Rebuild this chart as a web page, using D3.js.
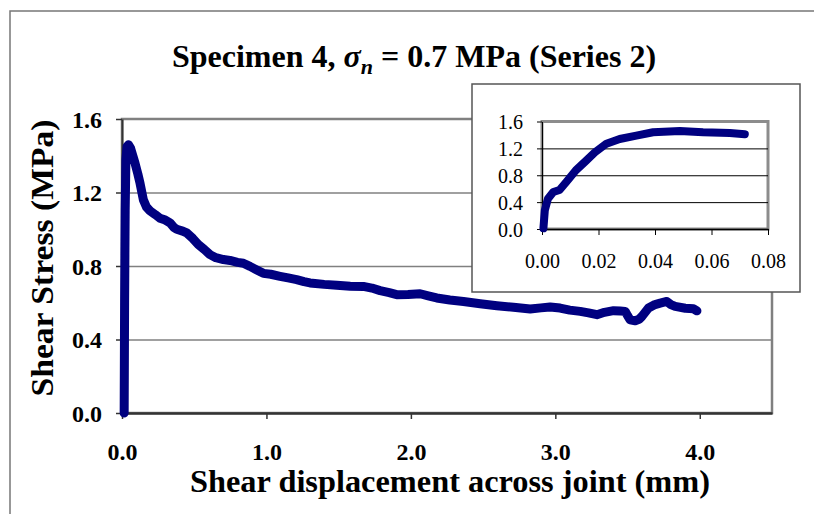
<!DOCTYPE html>
<html>
<head>
<meta charset="utf-8">
<script src="https://cdn.jsdelivr.net/npm/d3@7"></script>
<style>
  body { margin: 0; background: #fff; }
  svg { display: block; }
</style>
</head>
<body>
<svg class="shear" width="814" height="514"></svg>
<script>
// main curve: shear displacement (mm) vs shear stress (MPa)
const mainX = [0.015, 0.018, 0.022, 0.027, 0.035, 0.045, 0.06, 0.075, 0.09, 0.11, 0.125, 0.148, 0.17, 0.194, 0.23, 0.263, 0.30, 0.332, 0.36, 0.379, 0.42, 0.448, 0.49, 0.528, 0.57, 0.609, 0.65, 0.702, 0.748, 0.80, 0.84, 0.886, 0.93, 0.979, 1.03, 1.094, 1.15, 1.209, 1.26, 1.302, 1.40, 1.487, 1.58, 1.671, 1.73, 1.787, 1.85, 1.902, 1.98, 2.064, 2.12, 2.179, 2.27, 2.364, 2.48, 2.595, 2.71, 2.826, 2.90, 2.964, 3.033, 3.10, 3.172, 3.23, 3.288, 3.34, 3.403, 3.45, 3.484, 3.50, 3.518, 3.553, 3.58, 3.599, 3.645, 3.69, 3.726, 3.772, 3.80, 3.83, 3.90, 3.957, 3.98]
const mainY = [0.00, 0.60, 1.10, 1.38, 1.45, 1.46, 1.44, 1.40, 1.36, 1.30, 1.25, 1.16, 1.12, 1.10, 1.08, 1.06, 1.05, 1.035, 1.01, 1.00, 0.99, 0.98, 0.95, 0.917, 0.89, 0.862, 0.845, 0.835, 0.83, 0.82, 0.815, 0.798, 0.78, 0.76, 0.755, 0.744, 0.735, 0.726, 0.715, 0.708, 0.70, 0.695, 0.69, 0.689, 0.68, 0.666, 0.655, 0.644, 0.645, 0.649, 0.638, 0.626, 0.615, 0.607, 0.595, 0.584, 0.575, 0.566, 0.572, 0.577, 0.571, 0.56, 0.553, 0.545, 0.535, 0.548, 0.557, 0.555, 0.553, 0.53, 0.507, 0.502, 0.51, 0.525, 0.571, 0.59, 0.598, 0.607, 0.59, 0.58, 0.57, 0.567, 0.556]

// inset: first 0.07 mm
const insetX = [0.0005, 0.001, 0.0021, 0.004, 0.0062, 0.0086, 0.012, 0.0157, 0.0187, 0.0228, 0.0275, 0.0334, 0.0393, 0.0488, 0.057, 0.0665, 0.0718]
const insetY = [0.01, 0.28, 0.45, 0.55, 0.58, 0.70, 0.875, 1.02, 1.14, 1.27, 1.34, 1.39, 1.44, 1.46, 1.44, 1.43, 1.41]

const xTicks = [0, 1, 2, 3, 4]
const yTicks = [0, 0.4, 0.8, 1.2, 1.6]
const insetXTicks = [0, 0.02, 0.04, 0.06, 0.08]
const insetYTicks = [0, 0.4, 0.8, 1.2, 1.6]

const serif = '"Liberation Serif", "Times New Roman", serif'
const navy = '#000080'

const svg = d3.select('svg.shear')

// chart area border (runs off the right and bottom)
svg.append('rect')
  .attr('x', 10).attr('y', 11)
  .attr('width', 900).attr('height', 600)
  .attr('fill', '#fff')
  .attr('stroke', '#777').attr('stroke-width', 1.5)

// title
const title = svg.append('text')
  .attr('x', 414).attr('y', 67)
  .attr('text-anchor', 'middle')
  .style('font-family', serif).style('font-weight', 'bold').style('font-size', '32px')
title.append('tspan').text('Specimen 4, ')
title.append('tspan').style('font-style', 'italic').text('σ')
title.append('tspan').style('font-style', 'italic').style('font-size', '22px').attr('dy', 7).text('n')
title.append('tspan').attr('dy', -7).text(' = 0.7 MPa (Series 2)')

// ---- main plot ----
const xScale = d3.scaleLinear().domain([0, 4.5]).range([122, 772])
const yScale = d3.scaleLinear().domain([0, 1.6]).range([413, 119])

const plot = svg.append('g')

// plot area frame
plot.append('rect')
  .attr('x', xScale(0)).attr('y', yScale(1.6))
  .attr('width', xScale(4.5) - xScale(0)).attr('height', yScale(0) - yScale(1.6))
  .attr('fill', '#fff')
  .attr('stroke', '#808080').attr('stroke-width', 2.5)

// grid lines
plot.append('g')
  .attr('transform', `translate(${xScale(0)}, 0)`)
  .call(d3.axisLeft(yScale).tickValues(yTicks.slice(1, 4)).tickSize(-(xScale(4.5) - xScale(0))).tickFormat(''))
  .call(g => g.select('.domain').remove())
  .call(g => g.selectAll('line').attr('stroke', '#808080').attr('stroke-width', 1.5))

// y axis
const yAxis = plot.append('g')
  .attr('transform', `translate(${xScale(0)}, 0)`)
  .call(d3.axisLeft(yScale).tickValues(yTicks).tickSize(6).tickSizeOuter(0).tickPadding(14).tickFormat(d3.format('.1f')))
yAxis.select('.domain').attr('stroke', '#333').attr('stroke-width', 2)
yAxis.selectAll('line').attr('stroke', '#333').attr('stroke-width', 1.5)
yAxis.selectAll('text')
  .attr('dy', '0.35em')
  .style('font-family', serif).style('font-weight', 'bold').style('font-size', '24px').attr('fill', '#000')

// x axis
const xAxis = plot.append('g')
  .attr('transform', `translate(0, ${yScale(0)})`)
  .call(d3.axisBottom(xScale).tickValues(xTicks).tickSize(6).tickSizeOuter(0).tickFormat(d3.format('.1f')))
xAxis.select('.domain').attr('stroke', '#333').attr('stroke-width', 2.5)
xAxis.selectAll('line').attr('stroke', '#333').attr('stroke-width', 1.5)
xAxis.selectAll('text')
  .attr('y', 47).attr('dy', null)
  .style('font-family', serif).style('font-weight', 'bold').style('font-size', '24px').attr('fill', '#000')

// curve
const mainData = mainX.map((d, i) => [d, mainY[i]])
plot.append('path')
  .datum(mainData)
  .attr('d', d3.line().x(d => xScale(d[0])).y(d => yScale(d[1])))
  .attr('fill', 'none')
  .attr('stroke', navy).attr('stroke-width', 9)
  .attr('stroke-linejoin', 'round').attr('stroke-linecap', 'round')

// axis titles
svg.append('text')
  .attr('x', 450).attr('y', 492)
  .attr('text-anchor', 'middle')
  .attr('textLength', 520).attr('lengthAdjust', 'spacingAndGlyphs')
  .style('font-family', serif).style('font-weight', 'bold').style('font-size', '32px')
  .text('Shear displacement across joint (mm)')

svg.append('text')
  .attr('transform', 'translate(53, 258) rotate(-90)')
  .attr('text-anchor', 'middle')
  .attr('textLength', 277).attr('lengthAdjust', 'spacingAndGlyphs')
  .style('font-family', serif).style('font-weight', 'bold').style('font-size', '32px')
  .text('Shear Stress (MPa)')

// ---- inset ----
const inset = svg.append('g')
inset.append('rect')
  .attr('x', 472).attr('y', 84).attr('width', 328).attr('height', 208)
  .attr('fill', '#fff')
  .attr('stroke', '#555').attr('stroke-width', 1.5)

const ix = d3.scaleLinear().domain([0, 0.08]).range([542, 768])
const iy = d3.scaleLinear().domain([0, 1.6]).range([229, 121.5])

inset.append('rect')
  .attr('x', ix(0)).attr('y', iy(1.6))
  .attr('width', ix(0.08) - ix(0)).attr('height', iy(0) - iy(1.6))
  .attr('fill', '#fff')
  .attr('stroke', '#8c8c8c').attr('stroke-width', 3)

inset.append('g')
  .attr('transform', `translate(${ix(0)}, 0)`)
  .call(d3.axisLeft(iy).tickValues(insetYTicks.slice(1, 4)).tickSize(-(ix(0.08) - ix(0))).tickFormat(''))
  .call(g => g.select('.domain').remove())
  .call(g => g.selectAll('line').attr('stroke', '#000').attr('stroke-width', 1))

const iyAxis = inset.append('g')
  .attr('transform', `translate(${ix(0)}, 0)`)
  .call(d3.axisLeft(iy).tickValues(insetYTicks).tickSize(5).tickSizeOuter(0).tickPadding(14).tickFormat(d3.format('.1f')))
iyAxis.select('.domain').attr('stroke', '#000').attr('stroke-width', 1)
iyAxis.selectAll('line').attr('stroke', '#000')
iyAxis.selectAll('text')
  .attr('dy', '0.35em')
  .style('font-family', serif).style('font-size', '20px').attr('fill', '#000')

const ixAxis = inset.append('g')
  .attr('transform', `translate(0, ${iy(0)})`)
  .call(d3.axisBottom(ix).tickValues(insetXTicks).tickSize(6).tickSizeOuter(0).tickFormat(d3.format('.2f')))
ixAxis.select('.domain').attr('stroke', '#000').attr('stroke-width', 1.5)
ixAxis.selectAll('line').attr('stroke', '#000')
ixAxis.selectAll('text')
  .attr('y', 39).attr('dy', null)
  .style('font-family', serif).style('font-size', '20px').attr('fill', '#000')

const insetData = insetX.map((d, i) => [d, insetY[i]])
inset.append('path')
  .datum(insetData)
  .attr('d', d3.line().x(d => ix(d[0])).y(d => iy(d[1])))
  .attr('fill', 'none')
  .attr('stroke', navy).attr('stroke-width', 8)
  .attr('stroke-linejoin', 'round').attr('stroke-linecap', 'round')
</script>
</body>
</html>
